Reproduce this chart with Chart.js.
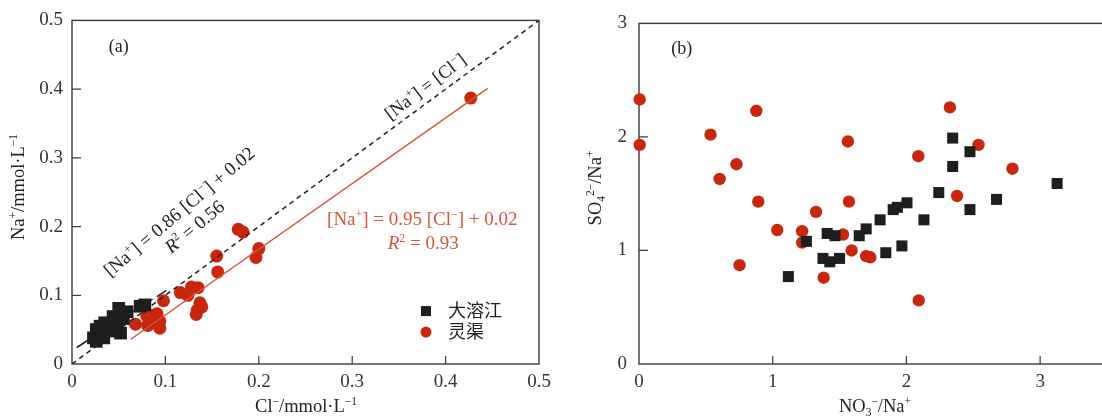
<!DOCTYPE html>
<html><head><meta charset="utf-8">
<script src="https://cdn.jsdelivr.net/npm/chart.js@4"></script>
<style>
html,body{margin:0;padding:0;background:#fff;overflow:hidden;width:1102px;height:418px}
#ca{position:absolute;left:0;top:0}
#cb{position:absolute;left:560px;top:0}
</style></head><body>
<canvas id="ca" width="560" height="418"></canvas>
<canvas id="cb" width="560" height="418"></canvas>
<script>
// ---------- Panel (a): Na+ vs Cl- (mmol/L) ----------
const dlxCl = [0.026,0.023,0.030,0.035,0.044,0.050,0.053,0.059,0.046,0.073,0.078,0.041,0.034,0.026,0.048,0.038,0.055,0.030,0.052];
const dlxNa = [0.050,0.038,0.043,0.060,0.069,0.081,0.074,0.076,0.055,0.084,0.086,0.048,0.038,0.033,0.062,0.052,0.066,0.055,0.045];
const lqCl = [0.427,0.178,0.183,0.200,0.197,0.155,0.156,0.098,0.116,0.124,0.128,0.135,0.137,0.139,0.134,0.133,0.068,0.081,0.087,0.091,0.094,0.094,0.080,0.082];
const lqNa = [0.387,0.196,0.192,0.168,0.155,0.157,0.134,0.092,0.104,0.100,0.112,0.111,0.089,0.083,0.078,0.072,0.058,0.056,0.071,0.073,0.062,0.052,0.070,0.057];
const lineEqualX = [0, 0.5];
const lineEqualY = [0, 0.5];
const dlxFitX = [0.005, 0.101];
const dlxFitY = [0.024, 0.107];
const lqFitX = [0.063, 0.445];
const lqFitY = [0.036, 0.401];
const ticksA_x = [0, 0.1, 0.2, 0.3, 0.4, 0.5];
const ticksA_y = [0, 0.1, 0.2, 0.3, 0.4, 0.5];

// ---------- Panel (b): SO4 2-/Na+ vs NO3-/Na+ ----------
const dlxNO3 = [1.117,1.252,1.376,1.427,1.500,1.407,1.466,1.647,1.699,1.803,1.901,1.932,2.004,1.966,1.846,2.131,2.242,2.346,2.346,2.475,2.475,2.674,3.127];
const dlxSO4 = [0.77,1.08,0.93,0.90,0.93,1.15,1.13,1.13,1.19,1.27,1.36,1.38,1.42,1.04,0.98,1.27,1.51,1.99,1.74,1.87,1.36,1.45,1.59];
const lqNO3 = [0.005,0.005,0.535,0.877,0.729,0.603,0.892,1.034,1.324,1.220,1.220,0.752,1.381,1.562,1.570,1.526,1.590,1.699,1.730,2.325,2.089,2.539,2.379,2.793,2.092];
const lqSO4 = [2.33,1.93,2.02,2.23,1.76,1.63,1.43,1.18,1.34,1.17,1.07,0.87,0.76,1.96,1.43,1.14,1.00,0.95,0.94,2.26,1.83,1.93,1.48,1.72,0.56];
const ticksB_x = [0, 1, 2, 3];
const ticksB_y = [0, 1, 2, 3];

const seriesNames = ['大溶江', '灵渠'];

const FAM = '"Liberation Serif","Noto Sans CJK SC",serif';
const BLACK = '#1e1e1e';
const RED = '#c8260f';
const RED_TXT = '#d4553c';
const AXIS = '#3a3a3a';

const pts = (xs, ys) => xs.map((x, i) => ({x, y: ys[i]}));

function parseRich(str){
  const segs=[]; let i=0, buf='';
  const flush=()=>{ if(buf){ segs.push({t:buf}); buf=''; } };
  while(i<str.length){
    const c=str[i];
    if((c==='^'||c==='_'||c==='~') && str[i+1]==='{'){
      flush(); const j=str.indexOf('}',i); const t=str.slice(i+2,j);
      segs.push({t, sup:c==='^', sub:c==='_', it:c==='~'}); i=j+1;
    } else { buf+=c; i++; }
  }
  flush(); return segs;
}
function richText(ctx, str, x, y, angle, size, color, align){
  const segs = parseRich(str);
  ctx.save();
  ctx.translate(x, y);
  ctx.rotate(angle*Math.PI/180);
  ctx.fillStyle = color;
  ctx.textBaseline = 'alphabetic';
  ctx.textAlign = 'left';
  const fontFor = s => (s.it?'italic ':'') + ((s.sup||s.sub)? size*0.62 : size) + 'px ' + FAM;
  let w = 0;
  segs.forEach(s => { ctx.font = fontFor(s); s.w = ctx.measureText(s.t).width; w += s.w; });
  let cx = align === 'left' ? 0 : -w/2;
  const base = size*0.34;
  segs.forEach(s => {
    ctx.font = fontFor(s);
    const dy = s.sup ? -size*0.38 : (s.sub ? size*0.2 : 0);
    ctx.fillText(s.t, cx, base + dy);
    cx += s.w;
  });
  ctx.restore();
}

const framePlugin = {
  id: 'frame',
  beforeDatasetsDraw(chart){
    const {ctx, chartArea:a, scales:{x, y}} = chart;
    ctx.save();
    ctx.strokeStyle = AXIS; ctx.lineWidth = 1.4;
    ctx.strokeRect(a.left, a.top, a.right-a.left, a.bottom-a.top);
    ctx.lineWidth = 1.2;
    ctx.beginPath();
    x.ticks.forEach(t => { const px = x.getPixelForValue(t.value);
      if(px > a.left+1 && px < a.right-1){ ctx.moveTo(px, a.bottom); ctx.lineTo(px, a.bottom-8); } });
    y.ticks.forEach(t => { const py = y.getPixelForValue(t.value);
      if(py > a.top+1 && py < a.bottom-1){ ctx.moveTo(a.left, py); ctx.lineTo(a.left+9, py); } });
    ctx.stroke();
    ctx.restore();
  }
};

function axisOpts(min, max, tickArr, isX, fitSize, pad){
  return {
    type: 'linear', min, max,
    afterBuildTicks: s => { s.ticks = tickArr.map(v => ({value: v})); },
    afterFit: s => { if(isX) s.height = fitSize; else s.width = fitSize; },
    grid: {display: false, drawTicks: false},
    border: {display: false},
    ticks: {font: {family: FAM, size: 19}, color: '#333', padding: pad, maxRotation: 0, autoSkip: false}
  };
}

// ----- chart (a) -----
const annotA = {
  id: 'annotA',
  afterDatasetsDraw(chart){
    const {ctx, scales:{x, y}} = chart;
    const P = (vx, vy) => [x.getPixelForValue(vx), y.getPixelForValue(vy)];
    let p;
    p = P(0.05, 0.463); richText(ctx, '(a)', p[0], p[1], 0, 18, '#222');
    p = P(0.378, 0.404); richText(ctx, '[Na^{+}] = [Cl^{−}]', p[0], p[1], -37, 18.5, '#222');
    p = P(0.1145, 0.222); richText(ctx, '[Na^{+}] = 0.86 [Cl^{−}] + 0.02', p[0], p[1], -40, 19, '#222');
    p = P(0.131, 0.200); richText(ctx, '~{R}^{2} = 0.56', p[0], p[1], -40, 19, '#222');
    p = P(0.375, 0.2115); richText(ctx, '[Na^{+}] = 0.95 [Cl^{−}] + 0.02', p[0], p[1], 0, 19, RED_TXT);
    p = P(0.376, 0.177); richText(ctx, '~{R}^{2} = 0.93', p[0], p[1], 0, 19, RED_TXT);
    // legend
    ctx.save();
    p = P(0.379, 0.077);
    ctx.fillStyle = BLACK; ctx.fillRect(p[0]-5, p[1]-5, 10, 10);
    richText(ctx, seriesNames[0], p[0]+22, p[1], 0, 18, '#222', 'left');
    p = P(0.379, 0.0465);
    ctx.fillStyle = RED; ctx.beginPath(); ctx.arc(p[0], p[1], 5.5, 0, Math.PI*2); ctx.fill();
    richText(ctx, seriesNames[1], p[0]+22, p[1], 0, 18, '#222', 'left');
    ctx.restore();
    // axis titles
    richText(ctx, 'Na^{+}/mmol·L^{−1}', 18, 187, -90, 18.5, '#222');
    richText(ctx, 'Cl^{−}/mmol·L^{−1}', 306, 406, 0, 18.5, '#222');
  }
};

new Chart(document.getElementById('ca'), {
  type: 'scatter',
  data: { datasets: [
    {type:'line', data: pts(lineEqualX, lineEqualY), borderColor:'#222', borderWidth:1.5, borderDash:[5,4], pointRadius:0, fill:false},
    {type:'line', data: pts(dlxFitX, dlxFitY), borderColor:'#222', borderWidth:1.5, borderDash:[14,5], pointRadius:0, fill:false},
    {type:'line', data: pts(lqFitX, lqFitY), borderColor:'#d9553a', borderWidth:1.5, pointRadius:0, fill:false},
    {label: seriesNames[0], data: pts(dlxCl, dlxNa), pointStyle:'rect', pointRadius:9, backgroundColor:BLACK, borderWidth:0, clip:false},
    {label: seriesNames[1], data: pts(lqCl, lqNa), pointStyle:'circle', pointRadius:6.5, backgroundColor:RED, borderWidth:0, clip:false}
  ]},
  options: {
    responsive:false, animation:false, events:[],
    layout:{padding:{left:0, right:21, top:17, bottom:0}},
    plugins:{legend:{display:false}, tooltip:{enabled:false}},
    scales:{
      x: axisOpts(0, 0.5, ticksA_x, true, 54, 7),
      y: axisOpts(0, 0.5, ticksA_y, false, 72, 9)
    }
  },
  plugins:[framePlugin, annotA]
});

// ----- chart (b) -----
const annotB = {
  id: 'annotB',
  afterDatasetsDraw(chart){
    const {ctx, scales:{x, y}} = chart;
    const p = [x.getPixelForValue(0.32), y.getPixelForValue(2.785)];
    richText(ctx, '(b)', p[0], p[1], 0, 18, '#222');
    richText(ctx, 'SO_{4}^{2−}/Na^{+}', 35, 188, -90, 18.5, '#222');
    richText(ctx, 'NO_{3}^{−}/Na^{+}', 315, 406, 0, 18.5, '#222');
  }
};

new Chart(document.getElementById('cb'), {
  type: 'scatter',
  data: { datasets: [
    {label: seriesNames[0], data: pts(dlxNO3, dlxSO4), pointStyle:'rect', pointRadius:7.8, backgroundColor:BLACK, borderWidth:0, clip:false},
    {label: seriesNames[1], data: pts(lqNO3, lqSO4), pointStyle:'circle', pointRadius:6.2, backgroundColor:RED, borderWidth:0, clip:false}
  ]},
  options: {
    responsive:false, animation:false, events:[],
    layout:{padding:{left:0, right:13, top:17, bottom:0}},
    plugins:{legend:{display:false}, tooltip:{enabled:false}},
    scales:{
      x: axisOpts(0, 3.5, ticksB_x, true, 54, 7),
      y: axisOpts(0, 3, ticksB_y, false, 79, 12)
    }
  },
  plugins:[framePlugin, annotB]
});
</script>
</body></html>
